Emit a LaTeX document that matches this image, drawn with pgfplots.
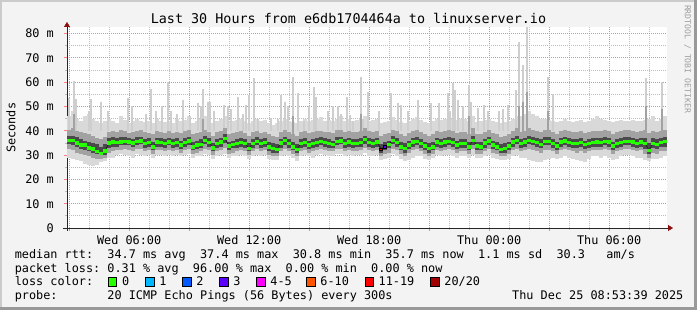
\documentclass[border=0pt]{standalone}
\usepackage{fontspec}
\setmainfont{DejaVu Sans Mono}
\usepackage{pgfplots}
\pgfplotsset{compat=1.18}
\usepackage{pgfplotstable}
\usetikzlibrary{arrows.meta}
\frenchspacing
\definecolor{canvasbg}{HTML}{F3F3F3}
\definecolor{shadea}{HTML}{CBCBCB}
\definecolor{shadeb}{HTML}{999999}
\definecolor{gridminor}{HTML}{BDBDBD}
\definecolor{gridmajor}{HTML}{FF8080}
\definecolor{arrowred}{HTML}{8A1010}
\definecolor{smokeL}{HTML}{D9D9D9}
\definecolor{smokeM}{HTML}{A2A2A2}
\definecolor{smokeD}{HTML}{4A4A4A}
\definecolor{lossA}{HTML}{26FF00}
\definecolor{lossB}{HTML}{00B8FF}
\definecolor{lossC}{HTML}{0059FF}
\definecolor{lossD}{HTML}{5E00FF}
\definecolor{lossE}{HTML}{FF00FF}
\definecolor{lossF}{HTML}{FF5500}
\definecolor{lossG}{HTML}{FF0000}
\definecolor{lossH}{HTML}{A10000}
\newcommand{\lf}{\fontsize{11.84pt}{14pt}\selectfont}
\pgfplotsset{smoke/.style={only marks, mark=*, mark options={opacity=0}}}

% k: 12-minute step index; med: median rtt (ms); d/m/l: dark, medium, light smoke bands
\pgfplotstableread{
k med dlo dhi mlo mhi llo lhi
0 36.2 34.5 37.8 32.5 40.5 29.0 46.0
1 36.2 34.0 38.0 32.0 41.0 28.5 48.0
2 35.0 33.5 37.5 31.0 40.0 28.0 45.0
3 34.2 32.5 36.5 30.5 39.5 27.5 44.0
4 34.2 32.0 36.0 30.0 39.0 26.5 46.0
5 33.0 31.5 35.5 29.5 38.5 26.0 47.0
6 32.6 31.0 35.0 29.0 38.0 25.5 45.0
7 31.5 30.5 34.5 28.5 37.0 26.0 44.0
8 30.8 30.0 33.5 28.5 36.5 27.0 43.0
9 31.8 30.0 34.5 29.0 37.5 27.5 44.0
10 35.0 33.0 37.0 31.0 39.5 29.0 45.0
11 35.5 33.5 37.5 31.5 40.0 29.0 44.0
12 35.2 33.5 37.0 32.0 39.5 30.0 43.0
13 35.5 34.0 37.5 32.0 40.5 30.5 46.0
14 35.8 34.0 37.5 32.5 40.0 30.0 44.5
15 35.6 34.0 37.0 32.0 39.0 29.5 43.0
16 35.0 33.5 36.5 31.5 39.5 29.0 44.0
17 35.8 34.0 37.5 32.5 40.0 30.5 45.0
18 36.0 34.5 37.5 32.5 40.5 30.0 44.0
19 34.8 33.0 36.5 31.5 39.5 29.5 43.5
20 35.2 33.5 37.0 32.0 39.0 30.0 44.0
21 33.5 32.0 35.5 30.5 38.5 29.0 43.0
22 35.5 33.5 37.0 32.0 40.0 30.0 45.0
23 35.3 33.5 37.0 32.0 39.5 30.0 44.0
24 34.8 33.0 36.5 31.5 39.0 29.5 43.5
25 35.5 34.0 37.0 32.0 40.0 30.0 44.0
26 34.8 33.0 36.5 31.5 39.0 29.5 43.0
27 35.3 33.5 37.0 32.0 39.5 30.0 45.0
28 34.2 32.5 36.0 31.0 39.0 29.5 44.0
29 35.3 33.5 37.0 32.0 40.0 30.0 44.5
30 36.0 34.0 37.5 32.5 40.5 30.5 46.0
31 33.5 32.0 35.5 30.5 38.5 29.0 43.0
32 34.2 32.5 36.0 31.0 39.0 29.5 44.0
33 34.5 33.0 36.5 31.5 39.5 29.5 45.0
34 36.2 34.5 38.0 32.5 40.5 30.5 46.0
35 35.3 33.5 37.0 32.0 39.5 30.0 44.0
36 33.1 31.5 35.0 30.0 38.0 28.5 43.0
37 34.9 33.0 36.5 31.5 39.5 29.5 44.0
38 35.5 33.5 37.0 32.0 40.0 30.0 45.0
39 36.9 35.0 38.5 33.0 41.0 30.5 46.0
40 33.8 32.0 35.5 30.5 38.5 29.0 43.5
41 34.5 33.0 36.0 31.0 39.0 29.5 44.0
42 34.9 33.0 36.5 31.5 39.5 29.5 44.5
43 35.3 33.5 37.0 32.0 40.0 30.0 45.0
44 34.8 33.0 36.5 31.5 39.0 29.5 44.0
45 32.8 31.5 35.0 30.0 38.0 28.5 43.0
46 34.9 33.0 36.5 31.5 39.5 29.5 44.0
47 35.8 34.0 37.5 32.5 40.0 30.0 45.0
48 34.8 33.0 36.5 31.5 39.0 29.5 44.0
49 35.2 33.5 37.0 32.0 39.5 30.0 44.5
50 33.5 31.5 35.5 30.0 38.5 28.5 43.0
51 32.8 31.0 35.0 29.5 38.0 28.0 42.5
52 32.5 31.0 34.5 29.5 37.5 28.0 43.0
53 35.0 33.0 36.5 31.5 39.5 29.5 44.0
54 36.2 34.0 37.5 32.5 40.5 30.0 45.0
55 34.9 33.0 36.5 31.5 39.5 29.5 44.0
56 33.5 32.0 35.5 30.5 38.5 29.0 43.5
57 32.5 31.0 34.5 29.5 38.0 27.5 43.0
58 34.9 33.0 36.5 31.5 39.5 29.5 44.0
59 35.3 33.5 37.0 32.0 40.0 30.0 45.0
60 34.2 32.5 36.0 31.0 39.0 29.5 44.0
61 34.9 33.0 36.5 31.5 39.5 29.0 44.5
62 35.3 33.5 37.0 32.0 40.0 30.0 45.0
63 35.8 34.0 37.5 32.5 40.0 30.5 45.5
64 35.3 33.5 37.0 32.0 39.5 30.0 44.0
65 34.9 33.0 36.5 31.5 39.5 29.5 44.5
66 34.5 33.0 36.0 31.5 39.0 29.5 44.0
67 35.8 34.0 37.5 32.5 40.5 30.5 45.0
68 36.0 34.5 37.5 32.5 40.5 30.5 46.0
69 34.8 33.0 36.5 31.5 39.5 29.5 44.0
70 35.5 33.5 37.0 32.0 40.0 30.0 45.0
71 34.8 33.0 36.5 31.5 39.5 29.5 44.0
72 34.9 33.5 36.5 31.5 39.5 30.0 44.5
73 35.3 33.5 37.0 32.0 40.0 30.0 45.0
74 36.5 34.5 38.0 33.0 41.0 31.0 46.0
75 35.3 33.5 37.0 32.0 40.0 29.5 44.0
76 34.9 33.0 36.5 31.5 39.5 29.5 44.5
77 35.5 33.5 37.0 32.0 40.0 30.0 45.0
78 32.5 31.0 34.5 29.5 38.0 28.0 43.0
79 33.5 32.0 35.5 30.5 38.5 28.5 43.5
80 34.5 33.0 36.0 31.0 39.0 29.0 44.0
81 36.2 34.5 38.0 32.5 40.5 30.5 45.5
82 35.3 33.5 37.0 32.0 40.0 29.5 44.5
83 33.5 32.0 35.5 30.5 38.5 28.5 43.5
84 32.8 31.0 35.0 29.5 38.0 27.5 43.0
85 34.2 32.5 36.0 31.0 39.0 28.0 44.0
86 35.5 33.5 37.0 32.0 40.0 29.0 45.0
87 35.8 34.0 37.5 32.5 40.5 29.5 45.5
88 34.9 33.0 36.5 31.5 39.5 29.5 44.5
89 33.8 32.0 35.5 30.5 38.5 28.5 43.5
90 32.8 31.0 35.0 29.5 38.0 28.0 43.0
91 33.5 32.0 35.5 30.5 38.5 29.0 44.0
92 35.5 33.5 37.0 32.0 40.0 30.0 45.0
93 34.8 33.0 36.5 31.5 39.5 29.5 44.5
94 35.5 33.5 37.0 32.0 40.0 30.0 45.0
95 35.8 34.0 37.5 32.5 40.5 30.0 46.0
96 35.3 33.5 37.0 32.0 40.0 29.5 45.0
97 34.2 32.5 36.0 31.0 39.0 29.0 44.5
98 34.8 33.0 36.5 31.5 39.5 29.5 45.0
99 34.9 33.0 36.5 31.5 39.5 29.5 45.0
100 33.5 32.0 35.5 30.5 38.5 29.0 44.0
101 36.2 34.0 38.0 32.5 41.0 30.0 46.0
102 33.8 32.0 35.5 30.5 38.5 29.0 43.5
103 33.5 32.0 35.5 30.5 38.5 29.0 44.0
104 35.0 33.0 36.5 31.5 39.5 29.5 44.5
105 36.0 34.0 37.5 32.5 40.5 30.0 45.0
106 34.2 32.5 36.0 31.0 39.0 29.0 44.0
107 33.5 32.0 35.5 30.5 38.5 28.5 43.5
108 32.5 31.0 34.5 29.5 37.5 28.0 43.0
109 32.8 31.0 35.0 29.5 38.0 28.0 43.5
110 33.8 32.0 35.5 30.5 38.5 28.5 44.0
111 35.5 33.5 37.0 32.0 40.0 29.5 45.0
112 36.2 34.5 38.0 32.5 41.0 30.0 46.0
113 34.9 33.0 36.5 31.5 39.5 29.0 46.0
114 35.5 33.5 37.0 32.0 40.0 29.0 47.0
115 36.2 34.5 38.0 32.5 41.0 28.0 48.0
116 35.8 34.0 37.5 32.0 40.5 27.5 47.0
117 35.3 33.5 37.0 31.5 40.0 27.0 46.0
118 34.5 33.0 36.5 31.0 39.5 27.0 45.0
119 35.8 34.0 37.5 32.0 40.5 28.0 45.0
120 35.8 34.0 37.5 32.0 40.5 28.5 44.5
121 34.9 33.0 36.5 31.5 39.5 29.0 44.0
122 33.8 32.0 35.5 30.5 38.5 28.5 43.5
123 35.5 33.5 37.0 32.0 40.0 29.0 44.0
124 36.0 34.0 37.5 32.5 40.5 29.5 45.0
125 35.3 33.5 37.0 32.0 40.0 29.0 44.0
126 34.9 33.0 36.5 31.5 39.5 28.5 43.5
127 34.8 33.0 36.5 31.0 39.5 28.0 44.0
128 35.3 33.5 37.0 31.5 40.0 27.5 44.5
129 34.5 32.5 36.0 31.0 39.0 27.0 43.5
130 34.8 33.0 36.5 31.5 39.5 28.5 44.0
131 35.3 33.5 37.0 32.0 40.0 29.5 45.0
132 35.5 33.5 37.0 32.0 40.0 29.5 46.0
133 35.3 33.5 37.0 32.0 40.0 29.0 45.0
134 35.8 34.0 37.5 32.5 40.5 29.5 44.5
135 35.5 33.5 37.0 32.0 40.0 29.0 44.0
136 33.8 32.0 35.5 30.5 38.5 28.0 43.5
137 34.8 33.0 36.5 31.5 39.5 28.5 44.0
138 35.3 33.5 37.0 32.0 40.0 29.5 44.5
139 35.8 34.0 37.5 32.5 40.5 30.0 44.0
140 35.8 34.0 37.5 32.5 40.5 30.0 44.0
141 35.5 33.5 37.0 32.0 40.0 29.5 44.5
142 34.8 33.0 36.5 31.5 39.5 29.0 44.0
143 35.5 33.5 37.0 32.0 40.0 29.0 44.0
144 34.9 32.5 37.0 30.5 40.5 28.0 44.5
145 32.0 30.5 35.0 29.0 39.0 27.5 45.0
146 34.9 33.0 37.0 31.0 40.0 28.5 46.0
147 34.5 32.5 36.5 30.5 39.5 28.5 44.0
148 35.3 33.5 37.0 31.5 40.0 29.0 45.0
149 35.7 33.5 37.5 31.5 40.5 29.5 46.0
}\smoke

% isolated high pings: px = pixel column, hi = top (ms)
\pgfplotstableread{
px hi
69 53.5
74 60.5
76 53
89 48
91 53
101 52
108 48
128 53.5
132 50
146 46.8
151 57
156 48
162 50
168 60.2
171 48
177 47
183 52.7
190 46
198 51.3
201 50
203 57
208 52
210 52
214 48
224 50.6
228 50
231 49
238 54.1
243 47
246 50.6
249 54.7
254 61.6
258 45
271 45.2
278 45
281 54.7
285 52
288 50
293 62.3
298 55.4
304 44
309 50
314 58.2
316 54.1
328 48
333 50
338 50
341 47
347 54.1
350 46.5
353 44
361 62.3
363 45
368 56.1
379 48
391 55.4
398 51.3
401 50.6
408 48
418 52.7
431 51.3
439 51.3
448 55.4
450 48
453 59.5
455 56.8
458 52.7
463 50
469 58.9
471 52
478 49.3
484 50.6
488 48
499 48
503 49
508 50.6
516 56.8
519 76.7
523 67
527 82.9
548 62.3
553 55
646 61.6
662 60.2
}\spikes

\pgfplotstableread{
px hi
74 47
203 45
293 46
361 47
469 46
519 50
523 52
527 56
548 48
646 50
662 49
}\midspikes

\begin{document}
\begin{tikzpicture}
\useasboundingbox (0,0) rectangle (697pt,310pt);
\fill[canvasbg] (0,0) rectangle (697pt,310pt);
\fill[shadea] (0,0) rectangle (2pt,310pt);
\fill[shadea] (0,308pt) rectangle (697pt,310pt);
\fill[shadeb] (694pt,0) rectangle (697pt,310pt);
\fill[shadeb] (0,0) rectangle (697pt,3pt);

\begin{axis}[
  at={(67pt,82pt)}, anchor=south west,
  width=600pt, height=200.5pt, scale only axis,
  xmin=2.894, xmax=32.894, ymin=0, ymax=82.5,
  axis background/.style={fill=white},
  axis x line=bottom, axis y line=left,
  x axis line style={-{Triangle[length=5pt,width=6pt,color=arrowred]}, shorten >=-6pt, shorten <=-4pt, black!85},
  y axis line style={-{Triangle[length=5pt,width=6pt,color=arrowred]}, shorten >=-5.5pt, shorten <=-3pt, black!85},
  xtick={3,6,...,30},
  xticklabels={,Wed 06:00,,Wed 12:00,,Wed 18:00,,Thu 00:00,,Thu 06:00},
  minor xtick={3,4,...,32},
  ytick={0,10,...,80},
  yticklabels={0,10 m,20 m,30 m,40 m,50 m,60 m,70 m,80 m},
  minor ytick={5,15,...,75},
  grid=both,
  major grid style={gridmajor, line width=0.8pt, dash pattern=on 1pt off 1pt},
  minor grid style={gridminor, line width=0.8pt, dash pattern=on 1pt off 1pt},
  tick align=outside,
  major tick length=3pt, minor tick length=2pt,
  major tick style={gridmajor, line width=0.8pt},
  minor tick style={gridminor, line width=0.8pt},
  tick label style={font=\lf, text=black},
  xticklabel style={anchor=base, inner sep=0pt, yshift=-13.7pt},
  yticklabel style={anchor=east, inner sep=0pt, xshift=-10pt},
  ylabel={Seconds},
  every axis y label/.style={at={(axis description cs:-0.0933,0.5)}, rotate=90, anchor=center, font=\lf},
  error bars/error mark=none,
]
% light smoke
\addplot[smoke, error bars/.cd, y dir=both, y explicit,
  error bar style={smokeL, line width=4pt}]
  table[x expr=2.994+0.2*\thisrow{k}, y=med,
        y error plus expr=\thisrow{lhi}-\thisrow{med},
        y error minus expr=\thisrow{med}-\thisrow{llo}] {\smoke};
% spikes
\addplot[smoke, error bars/.cd, y dir=minus, y explicit,
  error bar style={smokeL!95!black, line width=1.4pt}]
  table[x expr=2.894+(\thisrow{px}-67)/20, y=hi,
        y error minus expr=\thisrow{hi}-40] {\spikes};
% medium smoke
\addplot[smoke, error bars/.cd, y dir=both, y explicit,
  error bar style={smokeM, line width=4pt}]
  table[x expr=2.994+0.2*\thisrow{k}, y=med,
        y error plus expr=\thisrow{mhi}-\thisrow{med},
        y error minus expr=\thisrow{med}-\thisrow{mlo}] {\smoke};
\addplot[smoke, error bars/.cd, y dir=minus, y explicit,
  error bar style={smokeM, line width=1.4pt}]
  table[x expr=2.894+(\thisrow{px}-67)/20, y=hi,
        y error minus expr=\thisrow{hi}-38] {\midspikes};
% dark smoke
\addplot[smoke, error bars/.cd, y dir=both, y explicit,
  error bar style={smokeD, line width=4pt}]
  table[x expr=2.994+0.2*\thisrow{k}, y=med,
        y error plus expr=\thisrow{dhi}-\thisrow{med},
        y error minus expr=\thisrow{med}-\thisrow{dlo}] {\smoke};
% median
\addplot[black!90, line width=0.6pt] table[x expr=2.994+0.2*\thisrow{k}, y=med] {\smoke};
\addplot[only marks, mark=square*, mark size=1.25pt, color=lossA,
  mark options={xscale=1.2, draw=none, fill=lossA}]
  table[x expr=2.994+0.2*\thisrow{k}, y=med] {\smoke};
\addplot[only marks, mark=square*, mark size=1.25pt, mark options={xscale=1.2, draw=none, fill=lossG}]
  coordinates {(18.594,32.5)};
\addplot[only marks, mark=square*, mark size=1.25pt, mark options={xscale=1.2, draw=none, fill=lossD}]
  coordinates {(18.794,33.5)};
\end{axis}

% title and watermark
\node[anchor=base, font=\fontsize{13.4pt}{16pt}\selectfont] at (348.5pt,286pt) {Last 30 Hours from e6db1704464a to linuxserver.io};
\node[rotate=-90, anchor=center, font=\fontsize{8.15pt}{10pt}\selectfont, text=black!38] at (687.5pt,251pt) {RRDTOOL / TOBI OETIKER};

% legend
\node[anchor=base west, inner sep=0pt, font=\lf] at (14.6pt,51.7pt) {median rtt:~~34.7 ms avg~~37.4 ms max~~30.8 ms min~~35.7 ms now~~1.1 ms sd~~30.3~~~am/s};
\node[anchor=base west, inner sep=0pt, font=\lf] at (14.6pt,37.8pt) {packet loss:~0.31 \% avg~~96.00 \% max~~0.00 \% min~~0.00 \% now};
\node[anchor=base west, inner sep=0pt, font=\lf] at (14.6pt,24pt) {loss color:};
\foreach \bx/\col/\lab in {108.3/lossA/0, 145.7/lossB/1, 182.7/lossC/2, 219.7/lossD/3, 256.7/lossE/4-5, 306.7/lossF/6-10, 365/lossG/11-19, 430.7/lossH/{20/20}}{
  \filldraw[fill=\col, draw=black, line width=0.9pt] (\bx pt,23.6pt) rectangle ++(8.4pt,8.8pt);
  \node[anchor=base west, inner sep=0pt, font=\lf] at (\bx pt+13.5pt,24pt) {\lab};
}
\node[anchor=base west, inner sep=0pt, font=\lf] at (14.6pt,10.3pt) {probe:~~~~~~~20 ICMP Echo Pings (56 Bytes) every 300s};
\node[anchor=base west, inner sep=0pt, font=\lf] at (512pt,10.3pt) {Thu Dec 25 08:53:39 2025};
\end{tikzpicture}
\end{document}
